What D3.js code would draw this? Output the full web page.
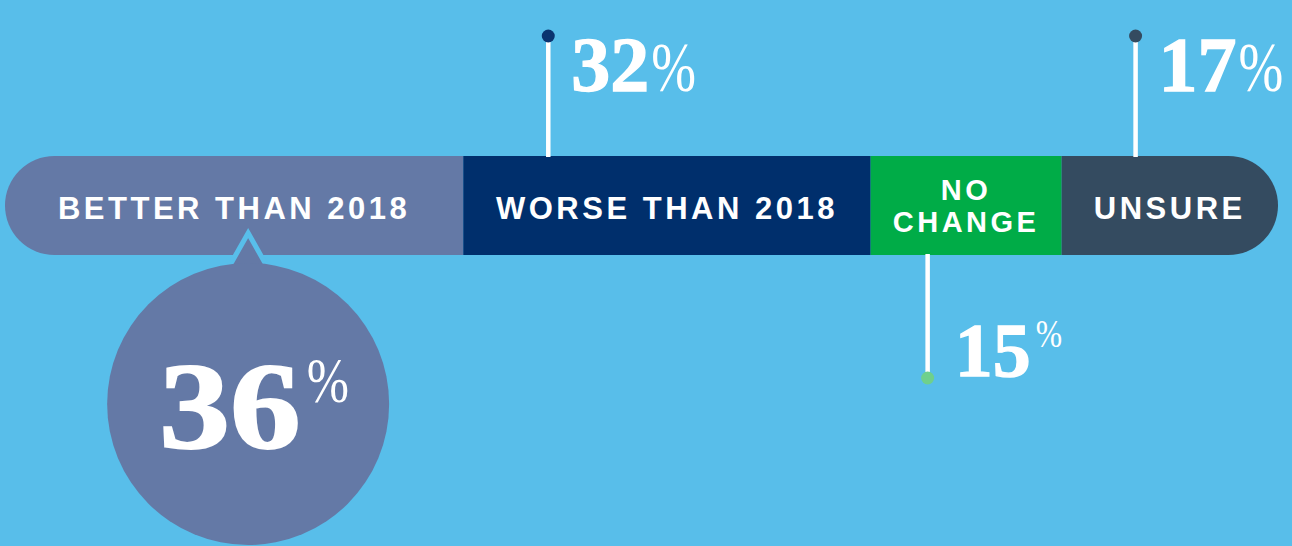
<!DOCTYPE html>
<html><head><meta charset="utf-8">
<script src="https://cdn.jsdelivr.net/npm/d3@7"></script>
<style>html,body{margin:0;padding:0;background:#58BEEA;overflow:hidden}svg{display:block}</style>
</head><body><svg id="chart" width="1292" height="546"></svg>
<script>
// Survey answers: share of respondents per outlook
const categories = ["BETTER THAN 2018", "WORSE THAN 2018", "NO CHANGE", "UNSURE"];
const labelLines = [["BETTER THAN 2018"], ["WORSE THAN 2018"], ["NO", "CHANGE"], ["UNSURE"]];
const values = [36, 32, 15, 17];
const valueLabels = ["36", "32", "15", "17"];
const percentSign = "%";

// ---- styling ----
const W = 1292, H = 546;
const bg = "#58BEEA";
const fills = ["#6479A6", "#002F6C", "#00AC47", "#344B60"];
const dotFills = ["#6479A6", "#0A3470", "#6FD08C", "#344B60"];
const barTop = 156, barH = 99, barLeft = 5, barRight = 1278;
const sansFont = "'Liberation Sans', Arial, Helvetica, sans-serif";
const serifFont = "'Liberation Serif', 'Times New Roman', serif";

const svg = d3.select("#chart").attr("viewBox", `0 0 ${W} ${H}`);
svg.append("rect").attr("width", W).attr("height", H).attr("fill", bg);

const total = d3.sum(values);
const x = d3.scaleLinear().domain([0, total]).range([barLeft, barRight]);
const y = d3.scaleBand().domain(["answers"]).range([barTop, barTop + barH]).padding(0);

const stacked = values.map((v, i) => {
  const start = d3.sum(values.slice(0, i));
  return { i, cat: categories[i], v, x0: start, x1: start + v };
});

// rounded capsule that holds the stacked segments
const defs = svg.append("defs");
defs.append("clipPath").attr("id", "capsule")
  .append("rect")
  .attr("x", x(0)).attr("y", y("answers"))
  .attr("width", x(total) - x(0)).attr("height", y.bandwidth())
  .attr("rx", y.bandwidth() / 2).attr("ry", y.bandwidth() / 2);

const bar = svg.append("g").attr("clip-path", "url(#capsule)");
bar.selectAll("rect.seg").data(stacked).join("rect")
  .attr("class", "seg")
  .attr("x", d => x(d.x0))
  .attr("y", y("answers"))
  .attr("width", d => x(d.x1) - x(d.x0))
  .attr("height", y.bandwidth())
  .attr("fill", d => fills[d.i]);

// category names inside the bar
const midY = y("answers") + y.bandwidth() / 2;
const lineGap = 32;
const labels = svg.append("g");
stacked.forEach(d => {
  const lines = labelLines[d.i];
  const cx = (x(d.x0) + x(d.x1)) / 2;
  const t = labels.append("text")
    .attr("text-anchor", "middle")
    .attr("fill", "#fff")
    .attr("font-family", sansFont)
    .attr("font-weight", "bold")
    .attr("font-size", lines.length > 1 ? 29 : 31)
    .attr("letter-spacing", 3.5);
  const firstBase = lines.length > 1 ? midY - 5.5 : midY + 13;
  lines.forEach((ln, k) => {
    t.append("tspan").attr("x", cx).attr("y", firstBase + k * lineGap).text(ln);
  });
});

// serif numerals, slightly widened and thickened for a display look
function numeral(parent, tx, ty, size, txt, f) {
  const t = parent.append("text").attr("x", tx).attr("y", ty)
    .attr("fill", "#fff").attr("stroke", "#fff").attr("stroke-width", size / 60)
    .attr("font-family", serifFont).attr("font-weight", "bold")
    .attr("font-size", size).text(txt);
  const w = t.node().getComputedTextLength() * f;
  t.attr("textLength", w).attr("lengthAdjust", "spacingAndGlyphs");
  return w;
}
// thin percent sign, condensed horizontally
function percent(parent, tx, ty, size, ratio) {
  const pw = size * ratio;
  const t = parent.append("text").attr("x", 0).attr("y", 0)
    .attr("fill", "#fff").attr("font-family", serifFont).attr("font-weight", "normal")
    .attr("font-size", size).text(percentSign);
  const nat = t.node().getComputedTextLength();
  t.attr("transform", `translate(${tx},${ty}) scale(${pw / nat},1)`);
  return pw;
}

// callouts with stems for the three smaller answers
const stemOffset = [0, 85, 57, 74];
const callouts = svg.append("g");
[1, 3].forEach(i => {
  const d = stacked[i];
  const sx = x(d.x0) + stemOffset[i];
  const dotY = 36;
  callouts.append("line").attr("x1", sx).attr("x2", sx)
    .attr("y1", dotY).attr("y2", barTop + 1)
    .attr("stroke", "#fff").attr("stroke-width", 4.5);
  callouts.append("circle").attr("cx", sx).attr("cy", dotY).attr("r", 6.5).attr("fill", dotFills[i]);
  const tx = sx + 23;
  const w = numeral(callouts, tx, dotY + 55, 78, valueLabels[i], 1.0);
  percent(callouts, tx + w + 2, dotY + 55, 70, 0.64);
});

{
  const i = 2, d = stacked[i];
  const sx = x(d.x0) + stemOffset[i];
  const dotY = 378;
  callouts.append("line").attr("x1", sx).attr("x2", sx)
    .attr("y1", barTop + barH - 1).attr("y2", dotY)
    .attr("stroke", "#fff").attr("stroke-width", 4.5);
  callouts.append("circle").attr("cx", sx).attr("cy", dotY).attr("r", 6.5).attr("fill", dotFills[i]);
  const tx = sx + 27;
  const w = numeral(callouts, tx, 376, 76, valueLabels[i], 1.0);
  percent(callouts, tx + w + 5, 347, 40, 0.66);
}

// speech-bubble circle for the largest answer
{
  const d = stacked[0];
  const px = (x(d.x0) + x(d.x1)) / 2 + 14;
  const r = 141;
  const cy = barTop + barH + 8 + r;
  svg.append("path")
    .attr("d", `M${px},${barTop + barH - 22} L${px + 22},${barTop + barH + 17} L${px - 22},${barTop + barH + 17} Z`)
    .attr("fill", fills[0]).attr("stroke", bg).attr("stroke-width", 5).attr("stroke-linejoin", "miter");
  svg.append("circle").attr("cx", px).attr("cy", cy).attr("r", r).attr("fill", fills[0]);

  const g = svg.append("g");
  const w = numeral(g, 0, cy + 44, 123, valueLabels[0], 1.15);
  const pw = percent(g, w + 6, cy - 2, 64, 0.66);
  const groupW = w + 6 + pw;
  g.attr("transform", `translate(${px + 6 - groupW / 2},0)`);
}
</script>
</body></html>
